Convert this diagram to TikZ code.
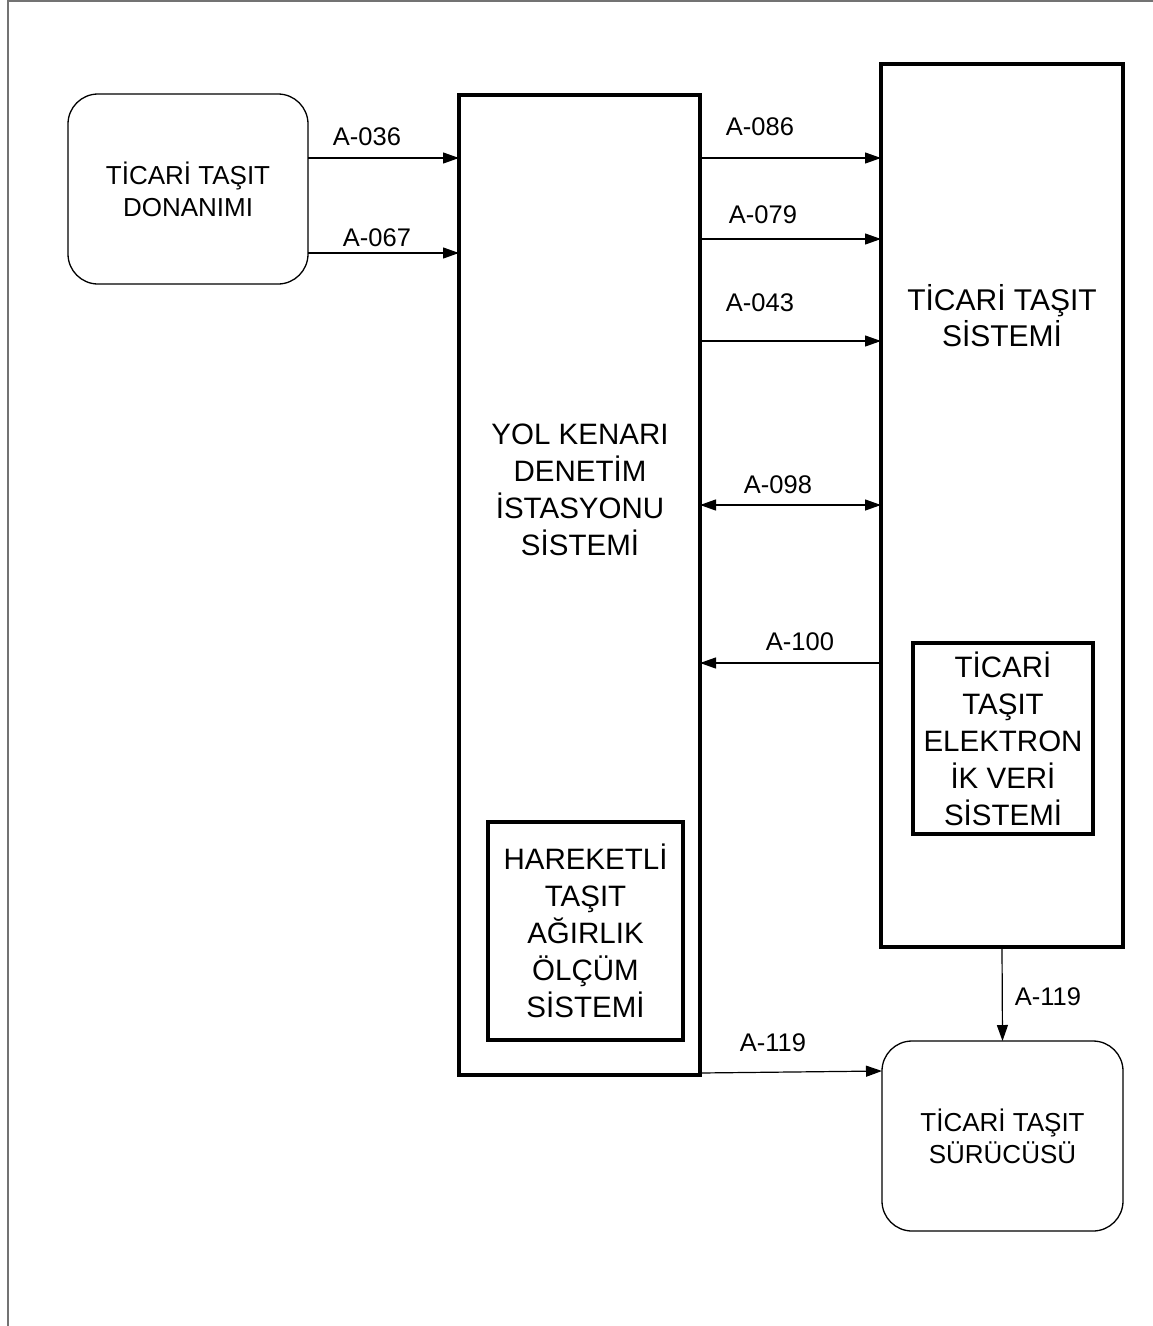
\documentclass[tikz,border=0pt]{standalone}
\usepackage{fontspec}
\setmainfont{Liberation Sans}
\usetikzlibrary{arrows.meta}
\begin{document}
\begin{tikzpicture}[x=1pt,y=-1pt,
  every node/.style={outer sep=0pt, inner sep=0pt},
  thickbox/.style={draw, line width=4pt, rectangle},
  roundbox/.style={draw, line width=1.3pt, rounded corners=30pt, rectangle},
  big/.style={font=\fontsize{29.5}{37}\selectfont, align=center},
  mid/.style={font=\fontsize{26}{32}\selectfont, align=center},
  lbl/.style={font=\fontsize{25.5}{30}\selectfont},
  arr/.style={line width=1.2pt, draw=black},
  >={Triangle[length=16pt,width=11pt]},
]
\useasboundingbox (0,0) rectangle (1153,1326);
\draw[line width=2pt, black!55] (1153,1) -- (8,1) -- (8,1326);

% nodes
\node[roundbox, minimum width=240pt, minimum height=190pt, mid] (don) at (188,189) {TİCARİ TAŞIT\\DONANIMI};
\node[thickbox, minimum width=241pt, minimum height=980pt] (yol) at (579.5,585) {};
\node[big] (yoltxt) at (580,490) {YOL KENARI\\DENETİM\\İSTASYONU\\SİSTEMİ};
\node[thickbox, minimum width=195pt, minimum height=218pt, big] (hwim) at (585.5,931) {HAREKETLİ\\TAŞIT\\AĞIRLIK\\ÖLÇÜM\\SİSTEMİ};
\node[thickbox, minimum width=242pt, minimum height=883pt] (cvs) at (1002,505.5) {};
\node[big, font=\fontsize{30}{36}\selectfont] (cvstxt) at (1002,316) {TİCARİ TAŞIT\\SİSTEMİ};
\node[thickbox, minimum width=180pt, minimum height=191pt, big] (cvis) at (1003,738.5) {TİCARİ\\TAŞIT\\ELEKTRON\\İK VERİ\\SİSTEMİ};
\node[roundbox, minimum width=241pt, minimum height=190pt, mid] (drv) at (1002.5,1136) {TİCARİ TAŞIT\\SÜRÜCÜSÜ};

% connectors
\draw[arr,->] (don.east |- 0,158) -- (yol.west |- 0,158);
\draw[arr,->] (don.east |- 0,253) -- (yol.west |- 0,253);
\draw[arr,->] (yol.east |- 0,158) -- (cvs.west |- 0,158);
\draw[arr,->] (yol.east |- 0,239) -- (cvs.west |- 0,239);
\draw[arr,->] (yol.east |- 0,341) -- (cvs.west |- 0,341);
\draw[arr,<->] (yol.east |- 0,505) -- (cvs.west |- 0,505);
\draw[arr,->] (cvs.west |- 0,663) -- (yol.east |- 0,663);
\draw[arr,->] (cvs.south) -- (drv.north);
\draw[arr,->] ([yshift=2pt]yol.south east) -- (drv.west |- 0,1071);

% labels
\node[lbl] (l036) at (367,137) {A-036};
\node[lbl] (l067) at (377,238) {A-067};
\node[lbl] (l086) at (760,127) {A-086};
\node[lbl] (l079) at (763,215) {A-079};
\node[lbl] (l043) at (760,303) {A-043};
\node[lbl] (l098) at (778,485) {A-098};
\node[lbl] (l100) at (800,642) {A-100};
\node[lbl] (l119a) at (1048,997) {A-119};
\node[lbl] (l119b) at (773,1043) {A-119};
\end{tikzpicture}
\end{document}
